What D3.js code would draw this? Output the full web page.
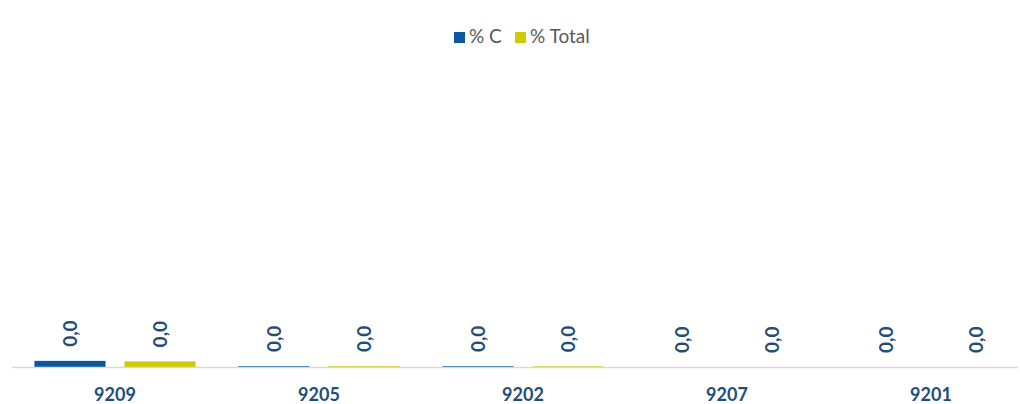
<!DOCTYPE html>
<html>
<head>
<meta charset="utf-8">
<script src="https://cdn.jsdelivr.net/npm/d3@7"></script>
<style>
  body { margin: 0; background: #fff; }
  text { font-family: Lato, "Open Sans", sans-serif; }
</style>
</head>
<body>
<div id="chart"></div>
<script>
// chart data
const categories = ['9209', '9205', '9202', '9207', '9201'];
const seriesNames = ['% C', '% Total'];
const valuesC = [0.035, 0.005, 0.005, 0, 0];
const valuesTotal = [0.032, 0.005, 0.004, 0, 0];
const colors = ['#0b58a0', '#cccc00'];

const width = 1020, height = 404;
const baseY = 367;

const svg = d3.select('#chart').append('svg')
    .attr('width', width)
    .attr('height', height);

let x = d3.scaleBand()
    .domain(categories)
    .range([13, 1033])
    .paddingInner(0.21)
    .paddingOuter(0.105);

let x1 = d3.scaleBand()
    .domain(seriesNames)
    .range([0, x.bandwidth()])
    .paddingInner(0.21);

let y = d3.scaleLinear()
    .domain([0, 1.75])
    .range([baseY, 60]);

let fmt = v => d3.format('.1f')(v).replace('.', ',');

let data = categories.map((c, i) => ({
  cat: c,
  vals: [valuesC[i], valuesTotal[i]]
}));

let groups = svg.append('g').selectAll('g')
    .data(data)
  .enter().append('g')
    .attr('transform', d => 'translate(' + x(d.cat) + ',0)');

groups.selectAll('rect')
    .data(d => d.vals.map((v, j) => ({ v: v, s: seriesNames[j], j: j })))
  .enter().append('rect')
    .attr('x', d => x1(d.s))
    .attr('width', x1.bandwidth())
    .attr('y', d => y(d.v))
    .attr('height', d => baseY - y(d.v))
    .attr('fill', d => colors[d.j]);

// value labels, rotated
groups.selectAll('text.val')
    .data(d => d.vals.map((v, j) => ({ v: v, s: seriesNames[j] })))
  .enter().append('text')
    .attr('class', 'val')
    .attr('transform', d => 'translate(' + (x1(d.s) + x1.bandwidth() / 2) + ',' + (y(d.v) - 14) + ') rotate(-90)')
    .attr('dy', '0.35em')
    .attr('text-anchor', 'start')
    .style('font-size', '19px')
    .style('font-weight', 'bold')
    .style('fill', '#1f4e79')
    .text(d => fmt(d.v));

// axis line
svg.append('line')
    .attr('x1', 12)
    .attr('x2', 1018)
    .attr('y1', baseY + 0.5)
    .attr('y2', baseY + 0.5)
    .style('stroke', '#d9d9d9')
    .style('stroke-width', 1.5);

// category labels
svg.append('g').selectAll('text')
    .data(categories)
  .enter().append('text')
    .attr('x', d => x(d) + x.bandwidth() / 2)
    .attr('y', 401)
    .attr('text-anchor', 'middle')
    .style('font-size', '18px')
    .style('font-weight', 'bold')
    .style('fill', '#1f4e79')
    .text(d => d);

// legend
let legend = svg.append('g');
let legendX = [454, 515];
seriesNames.forEach((s, i) => {
  legend.append('rect')
      .attr('x', legendX[i])
      .attr('y', 32)
      .attr('width', 11)
      .attr('height', 11)
      .attr('fill', colors[i]);
  legend.append('text')
      .attr('x', legendX[i] + 15)
      .attr('y', 43)
      .style('font-size', '19px')
      .style('fill', '#595959')
      .text(s);
});
</script>
</body>
</html>
